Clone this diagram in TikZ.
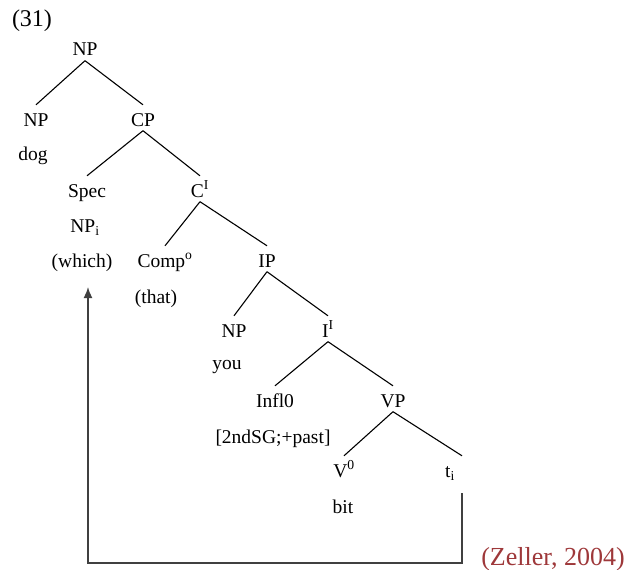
\documentclass[tikz,border=0pt]{standalone}
\usepackage{fontspec}
\setmainfont{Liberation Serif}
\usepackage{xcolor}
\usetikzlibrary{positioning, arrows.meta}
\definecolor{citered}{RGB}{158,56,58}
\tikzset{
    treenode/.style={anchor=base, inner sep=0pt, text height=21pt, text depth=4.5pt,
        font=\fontsize{19.5}{22}\selectfont}, % categorie dell'albero
    word/.style={anchor=base, inner sep=0pt, font=\fontsize{19.5}{22}\selectfont}, % parole sotto le categorie
    branch/.style={line width=1.1pt}, % rami dell'albero
    movement/.style={line width=1.6pt, draw=black!75, -{Latex[length=11pt,width=9pt]}}, % freccia del movimento
}

\begin{document}
\begin{tikzpicture}[x=1pt, y=-1pt]
        \useasboundingbox (0,0) rectangle (627,570);

        % Numero dell'esempio
        \node[anchor=base, inner sep=0pt, font=\fontsize{24}{26}\selectfont] (num) at (32,26.5) {(31)};

        % NP e CP
        \node[treenode] (np0) at (85,56) {NP};
        \node[treenode] (np1) at (36,126) {NP};
        \node[word] (dog) at (33,160) {dog};
        \node[treenode] (cp) at (143,126) {CP};

        % Spec e C'
        \node[treenode] (spec) at (87,197) {Spec};
        \node[word] (npi) at (85,232) {NP\textsubscript{i}};
        \node[word] (which) at (82,267) {(which)};
        \node[treenode] (cbar) at (200,197) {C\textsuperscript{I}};

        % Comp e IP
        \node[treenode] (comp) at (165,267) {Comp\textsuperscript{o}};
        \node[word] (that) at (156,303) {(that)};
        \node[treenode] (ip) at (267,267) {IP};

        % NP e I'
        \node[treenode] (np2) at (234,337) {NP};
        \node[word] (you) at (227,369) {you};
        \node[treenode] (ibar) at (328,337) {I\textsuperscript{I}};

        % Infl e VP
        \node[treenode] (infl) at (275,407) {Infl0};
        \node[word] (feat) at (273,443) {[2ndSG;+past]};
        \node[treenode] (vp) at (393,407) {VP};

        % V e traccia
        \node[treenode] (verb) at (344,477) {V\textsuperscript{0}};
        \node[word] (bit) at (343,513) {bit};
        \node[treenode] (trace) at (450,477) {t\textsubscript{i}};

        % Rami
        \draw[branch] (np0.south) -- (np1.north);
        \draw[branch] (np0.south) -- (cp.north);
        \draw[branch] (cp.south) -- (spec.north);
        \draw[branch] (cp.south) -- (cbar.north);
        \draw[branch] (cbar.south) -- (comp.north);
        \draw[branch] (cbar.south) -- (ip.north);
        \draw[branch] (ip.south) -- (np2.north);
        \draw[branch] (ip.south) -- (ibar.north);
        \draw[branch] (ibar.south) -- (infl.north);
        \draw[branch] (ibar.south) -- (vp.north);
        \draw[branch] (vp.south) -- (verb.north);

        % Movimento dalla traccia a (which)
        \coordinate (tfoot) at (462,493);
        \coordinate (whead) at (88,287);
        \draw[branch] (vp.south) -- (trace.north -| tfoot);
        \draw[movement] (tfoot) -- ++(0,70) -| (whead);

        % Fonte
        \node[anchor=base, inner sep=0pt, text=citered, font=\fontsize{26}{28}\selectfont] (cite) at (553,565) {(Zeller, 2004)};
\end{tikzpicture}
\end{document}
